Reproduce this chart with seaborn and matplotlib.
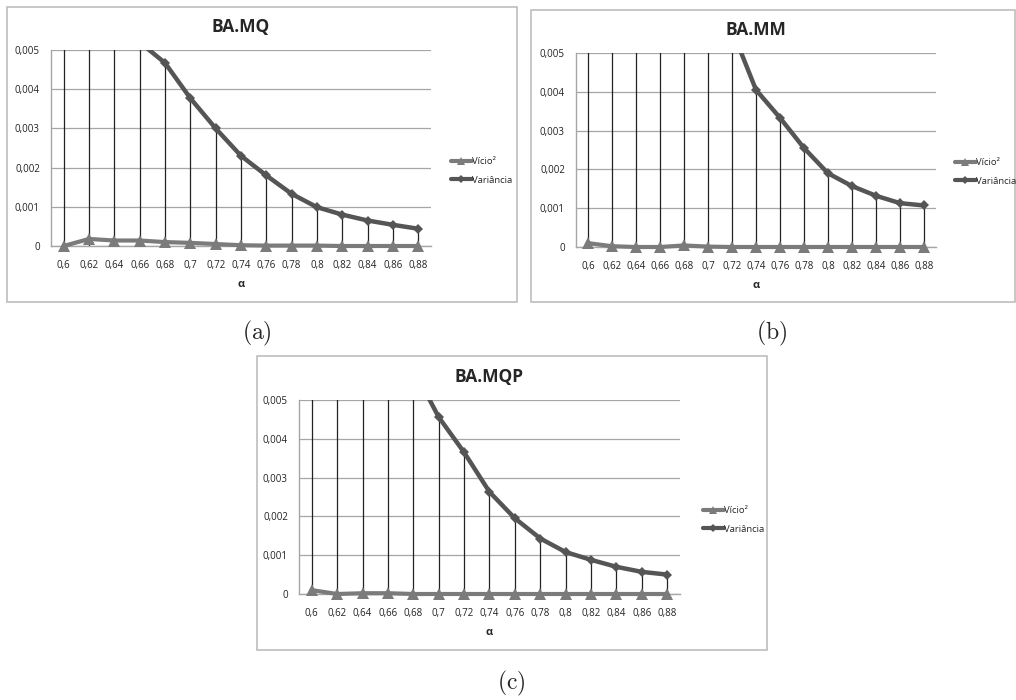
import numpy as np
import pandas as pd
import matplotlib
matplotlib.use("Agg")
import matplotlib.pyplot as plt
import seaborn as sns
from matplotlib.patches import Rectangle
from matplotlib.lines import Line2D

sns.set_style("white")
plt.rcParams["font.family"] = ["Open Sans", "DejaVu Sans"]
plt.rcParams["mathtext.fontset"] = "cm"

alpha = [0.6, 0.62, 0.64, 0.66, 0.68, 0.7, 0.72, 0.74, 0.76, 0.78, 0.8, 0.82, 0.84, 0.86, 0.88]
alpha_labels = ["0,6", "0,62", "0,64", "0,66", "0,68", "0,7", "0,72", "0,74", "0,76",
                "0,78", "0,8", "0,82", "0,84", "0,86", "0,88"]
y_ticks = [0, 0.001, 0.002, 0.003, 0.004, 0.005]
y_labels = ["0", "0,001", "0,002", "0,003", "0,004", "0,005"]

# BA.MQ (values above 0.005 are off the chart)
mq_vicio = [0.0, 0.00018, 0.00014, 0.00014, 0.0001, 0.00008, 0.00005, 0.00002,
            0.00001, 0.00001, 0.00001, 0.0, 0.0, 0.0, 0.0]
mq_var = [0.012, 0.0095, 0.0072, 0.0052, 0.00467, 0.00377, 0.0030, 0.0023,
          0.0018, 0.00133, 0.00099, 0.0008, 0.00065, 0.00054, 0.00044]
# BA.MM
mm_vicio = [0.0001, 0.00002, 0.0, 0.0, 0.00004, 0.00001, 0.0, 0.0,
            0.0, 0.0, 0.0, 0.0, 0.0, 0.0, 0.0]
mm_var = [0.02, 0.016, 0.013, 0.0105, 0.0085, 0.0069, 0.0056, 0.00405,
          0.00333, 0.00255, 0.0019, 0.00157, 0.00132, 0.00113, 0.00107]
# BA.MQP
mqp_vicio = [0.0001, 0.0, 0.00002, 0.00002, 0.0, 0.0, 0.0, 0.0,
             0.0, 0.0, 0.0, 0.0, 0.0, 0.0, 0.0]
mqp_var = [0.014, 0.011, 0.0088, 0.0071, 0.0058, 0.00456, 0.00365, 0.00263,
           0.00195, 0.00143, 0.00108, 0.00088, 0.0007, 0.00057, 0.0005]

W, H = 1016, 700
fig = plt.figure(figsize=(W / 100, H / 100), dpi=100)

c_vicio = "#7b7b7b"
c_var = "#555555"


def px_axes(left, top, right, bottom):
    return fig.add_axes([left / W, 1 - bottom / H, (right - left) / W, (bottom - top) / H])


def box(left, top, right, bottom):
    fig.patches.append(Rectangle((left / W, 1 - bottom / H), (right - left) / W, (bottom - top) / H,
                                 transform=fig.transFigure, fill=False, edgecolor="#bdbdbd", lw=1.2))


def panel(ax, title, vicio, var, legend_xy):
    pos = np.arange(len(alpha))
    df = pd.DataFrame({"pos": pos, "vicio": vicio, "var": var})
    ax.vlines(pos, 0, df["var"], color="#222222", lw=0.9, zorder=1)
    sns.lineplot(data=df, x="pos", y="vicio", ax=ax, color=c_vicio, lw=3,
                 marker="^", markersize=9, markeredgewidth=0, zorder=3, clip_on=False)
    sns.lineplot(data=df, x="pos", y="var", ax=ax, color=c_var, lw=3.2,
                 marker="D", markersize=5.5, markeredgewidth=0, zorder=4)
    ax.set_xlim(-0.5, len(alpha) - 0.5)
    ax.set_ylim(0, 0.005)
    ax.set_yticks(y_ticks)
    ax.set_yticklabels(y_labels)
    ax.set_xticks(pos)
    ax.set_xticklabels(alpha_labels)
    ax.tick_params(axis="both", labelsize=7, length=0, colors="#222222")
    ax.tick_params(axis="x", pad=10)
    ax.tick_params(axis="y", pad=8)
    ax.grid(axis="y", color="#a6a6a6", lw=0.9)
    ax.grid(axis="x", visible=False)
    for s in ["top", "right"]:
        ax.spines[s].set_visible(False)
    for s in ["left", "bottom"]:
        ax.spines[s].set_color("#a6a6a6")
        ax.spines[s].set_linewidth(1)
    ax.set_ylabel("")
    ax.set_xlabel("α", fontsize=8, fontweight="bold", labelpad=6)
    ax.set_title(title, fontsize=12.5, fontweight="bold", pad=13)
    handles = [Line2D([], [], color=c_vicio, lw=3, marker="^", ms=6, mew=0),
               Line2D([], [], color=c_var, lw=3, marker="D", ms=4, mew=0)]
    fig.legend(handles, ["Vício²", "Variância"], loc="center left",
               bbox_to_anchor=(legend_xy[0] / W, 1 - legend_xy[1] / H), frameon=False,
               fontsize=6.8, handlelength=2.2, handletextpad=0.1, labelspacing=1.0,
               borderpad=0)


box(7, 7, 517, 302)
box(531, 10, 1015, 302)
box(257, 356, 767, 650)

ax_a = px_axes(51, 50, 431, 246)
panel(ax_a, "BA.MQ", mq_vicio, mq_var, (446, 171))
ax_b = px_axes(576, 53, 936, 247)
panel(ax_b, "BA.MM", mm_vicio, mm_var, (950, 172))
ax_c = px_axes(299, 400, 680, 594)
panel(ax_c, "BA.MQP", mqp_vicio, mqp_var, (698, 520))

fig.text(257 / W, 1 - 333 / H, r"$\mathrm{(a)}$", ha="center", va="center", fontsize=17)
fig.text(772 / W, 1 - 333 / H, r"$\mathrm{(b)}$", ha="center", va="center", fontsize=17)
fig.text(511 / W, 1 - 683 / H, r"$\mathrm{(c)}$", ha="center", va="center", fontsize=17)

fig.savefig("out.png", dpi=100)
